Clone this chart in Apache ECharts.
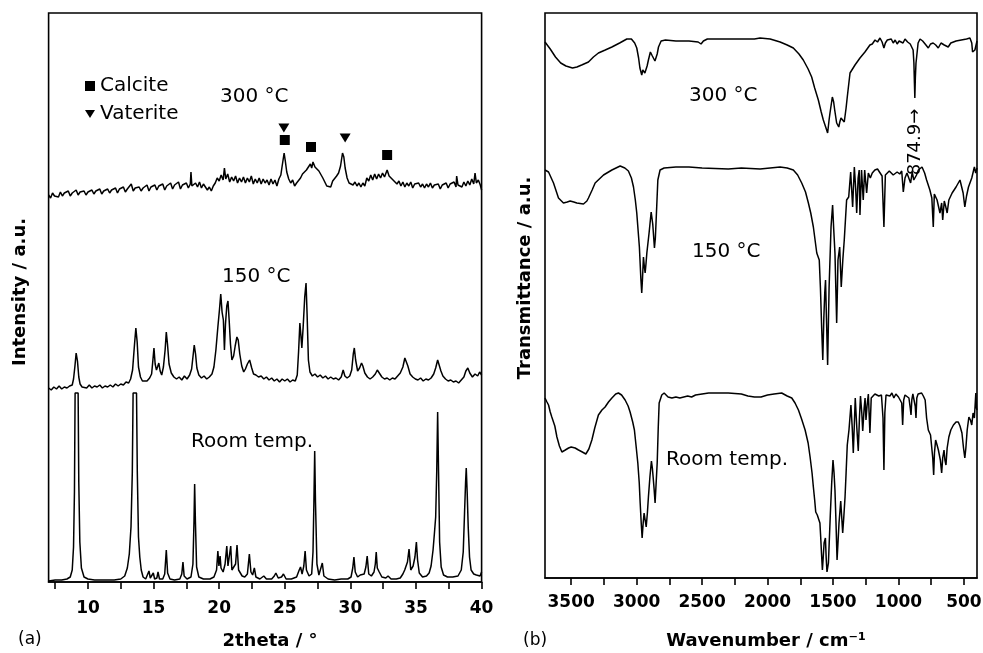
<!DOCTYPE html>
<html>
<head>
<meta charset="utf-8">
<script src="https://cdn.jsdelivr.net/npm/echarts@6/dist/echarts.min.js"></script>
<style>
  html, body { margin: 0; padding: 0; background: #fff; }
  #chart { width: 983px; height: 653px; }
</style>
</head>
<body>
<div id="chart"></div>
<script>
// ---------- (a) XRD patterns: [2theta (deg), intensity (a.u., offset per trace)] ----------
const xrd300 = [[7.00,387],[7.15,384],[7.30,389],[7.45,386],[7.60,388],[7.75,385],[7.90,390],[8.05,386],[8.20,389],[8.35,387],[8.50,391],[8.65,386],[8.80,389],[8.95,388],[9.10,392],[9.25,387],[9.40,390],[9.55,388],[9.70,391],[9.85,387],[10.00,390],[10.15,389],[10.30,392],[10.45,388],[10.60,391],[10.75,389],[10.90,393],[11.05,388],[11.20,391],[11.35,390],[11.50,393],[11.65,389],[11.80,392],[11.95,390],[12.10,394],[12.25,389],[12.40,393],[12.55,391],[12.70,395],[12.85,390],[13.00,393],[13.15,392],[13.30,398],[13.45,391],[13.60,394],[13.75,392],[13.90,395],[14.05,391],[14.20,394],[14.35,393],[14.50,397],[14.65,391],[14.80,395],[14.95,393],[15.10,397],[15.25,392],[15.40,396],[15.55,394],[15.70,398],[15.85,392],[16.00,396],[16.15,394],[16.30,399],[16.45,393],[16.60,397],[16.75,395],[16.90,400],[17.05,393],[17.20,397],[17.35,395],[17.50,399],[17.65,394],[17.80,398],[17.85,410],[17.92,396],[18.05,394],[18.20,399],[18.35,395],[18.50,400],[18.65,394],[18.80,398],[18.95,396],[19.10,392],[19.25,395],[19.40,391],[19.55,396],[19.70,399],[19.85,404],[20.00,401],[20.15,407],[20.30,402],[20.40,414],[20.50,403],[20.65,408],[20.80,400],[20.95,405],[21.10,401],[21.25,406],[21.40,399],[21.55,404],[21.70,400],[21.85,405],[22.00,399],[22.15,404],[22.30,400],[22.45,406],[22.60,398],[22.75,403],[22.90,399],[23.05,404],[23.20,398],[23.35,403],[23.50,399],[23.65,402],[23.80,397],[23.95,403],[24.10,398],[24.25,402],[24.40,396],[24.55,403],[24.70,407],[24.80,416],[24.95,429],[25.05,420],[25.15,410],[25.30,403],[25.45,399],[25.60,402],[25.75,396],[25.90,399],[26.05,397],[26.20,404],[26.35,408],[26.50,406],[26.65,412],[26.80,414],[26.95,418],[27.05,414],[27.15,420],[27.30,415],[27.45,417],[27.60,411],[27.75,410],[27.90,404],[28.05,402],[28.20,396],[28.35,398],[28.50,395],[28.65,401],[28.80,403],[28.95,406],[29.10,409],[29.25,416],[29.40,429],[29.50,425],[29.60,414],[29.75,404],[29.90,399],[30.05,401],[30.20,397],[30.35,400],[30.50,396],[30.65,399],[30.80,395],[30.95,399],[31.10,396],[31.25,404],[31.40,401],[31.55,407],[31.70,402],[31.85,408],[32.00,403],[32.15,408],[32.30,404],[32.45,409],[32.60,405],[32.80,412],[32.95,406],[33.10,408],[33.25,402],[33.40,404],[33.55,398],[33.70,401],[33.85,396],[34.00,400],[34.15,395],[34.30,399],[34.45,396],[34.60,400],[34.75,394],[34.90,398],[35.05,396],[35.20,399],[35.35,395],[35.50,398],[35.65,394],[35.80,398],[35.95,395],[36.10,399],[36.25,394],[36.40,397],[36.55,395],[36.70,398],[36.85,393],[37.00,397],[37.15,395],[37.30,399],[37.45,394],[37.60,398],[37.75,396],[37.90,400],[38.05,395],[38.10,406],[38.20,397],[38.35,399],[38.50,395],[38.65,400],[38.80,396],[38.95,401],[39.10,397],[39.25,403],[39.40,398],[39.50,409],[39.60,399],[39.75,402],[39.90,397],[40.00,392]];

const xrd150 = [[7.00,194],[7.20,192],[7.40,195],[7.60,193],[7.80,196],[8.00,193],[8.20,195],[8.40,194],[8.60,196],[8.80,197],[8.90,203],[9.00,215],[9.10,229],[9.20,221],[9.30,205],[9.40,198],[9.55,195],[9.70,196],[9.90,194],[10.10,197],[10.30,194],[10.50,196],[10.70,195],[10.90,197],[11.10,194],[11.30,196],[11.50,195],[11.70,197],[11.90,195],[12.10,198],[12.30,196],[12.50,198],[12.70,197],[12.90,200],[13.10,199],[13.25,203],[13.40,212],[13.55,238],[13.65,254],[13.75,240],[13.85,215],[14.00,205],[14.15,201],[14.30,203],[14.50,201],[14.70,204],[14.85,208],[14.95,222],[15.03,234],[15.12,218],[15.22,212],[15.30,215],[15.40,219],[15.50,211],[15.62,207],[15.75,215],[15.88,232],[15.97,250],[16.06,238],[16.18,218],[16.35,209],[16.55,205],[16.75,203],[16.95,205],[17.15,202],[17.35,206],[17.55,203],[17.75,207],[17.90,213],[18.00,225],[18.10,237],[18.20,228],[18.30,214],[18.45,207],[18.65,204],[18.85,206],[19.05,203],[19.25,205],[19.45,208],[19.60,215],[19.75,232],[19.90,255],[20.02,272],[20.12,288],[20.22,270],[20.32,262],[20.40,232],[20.48,258],[20.58,276],[20.67,281],[20.76,262],[20.86,238],[20.97,222],[21.10,226],[21.22,236],[21.35,245],[21.45,242],[21.57,228],[21.72,216],[21.87,210],[22.00,213],[22.15,218],[22.32,222],[22.48,214],[22.62,208],[22.80,207],[23.00,205],[23.20,206],[23.40,203],[23.60,205],[23.80,202],[24.00,204],[24.20,201],[24.40,203],[24.60,200],[24.80,203],[25.00,201],[25.20,203],[25.40,200],[25.60,202],[25.80,201],[25.95,207],[26.05,230],[26.15,259],[26.22,248],[26.30,234],[26.40,255],[26.52,285],[26.62,299],[26.70,268],[26.80,222],[26.92,210],[27.10,206],[27.30,208],[27.50,205],[27.70,207],[27.90,204],[28.10,206],[28.30,203],[28.50,205],[28.70,203],[28.90,204],[29.10,202],[29.30,205],[29.45,212],[29.58,206],[29.75,204],[29.95,206],[30.10,212],[30.22,228],[30.30,234],[30.40,222],[30.55,211],[30.70,214],[30.85,219],[30.95,216],[31.10,209],[31.30,205],[31.50,203],[31.70,205],[31.90,208],[32.05,212],[32.20,210],[32.40,205],[32.60,203],[32.80,204],[33.00,202],[33.20,204],[33.40,203],[33.60,206],[33.80,209],[34.00,215],[34.15,224],[34.25,225],[34.38,216],[34.55,208],[34.75,205],[34.95,203],[35.15,202],[35.35,204],[35.55,201],[35.75,203],[35.95,202],[36.15,204],[36.35,208],[36.50,214],[36.65,222],[36.75,220],[36.90,211],[37.05,206],[37.25,203],[37.45,201],[37.65,202],[37.85,200],[38.05,201],[38.25,199],[38.45,202],[38.65,205],[38.80,211],[38.95,214],[39.10,209],[39.30,205],[39.50,208],[39.70,206],[39.85,210],[40.00,207]];

const xrdRoom = [[7.00,1],[7.50,2],[8.00,2],[8.40,3],[8.65,5],[8.80,12],[8.90,35],[8.97,90],[9.02,189],[9.25,189],[9.30,100],[9.38,40],[9.50,14],[9.70,5],[10.00,3],[10.50,2],[11.00,2],[11.50,2],[12.00,2],[12.50,3],[12.80,6],[13.00,14],[13.15,28],[13.28,55],[13.38,110],[13.44,189],[13.70,189],[13.76,110],[13.85,45],[13.95,25],[14.06,12],[14.20,5],[14.40,3],[14.55,4],[14.65,11],[14.75,4],[14.88,4],[14.98,9],[15.08,3],[15.25,4],[15.34,10],[15.45,3],[15.70,3],[15.85,8],[15.97,32],[16.07,9],[16.25,3],[16.60,2],[17.00,3],[17.15,8],[17.24,20],[17.33,6],[17.55,3],[17.85,5],[18.00,18],[18.08,60],[18.13,98],[18.19,60],[18.28,15],[18.45,5],[18.80,3],[19.30,3],[19.60,5],[19.80,12],[19.90,31],[19.98,16],[20.07,26],[20.14,14],[20.30,10],[20.45,18],[20.58,36],[20.67,16],[20.78,18],[20.88,36],[20.97,12],[21.10,10],[21.25,18],[21.36,37],[21.48,12],[21.60,10],[21.75,6],[21.95,5],[22.15,8],[22.30,28],[22.42,10],[22.55,7],[22.68,14],[22.80,5],[23.10,3],[23.40,6],[23.60,3],[24.00,3],[24.20,6],[24.32,9],[24.50,4],[24.75,5],[24.90,8],[25.10,3],[25.50,3],[25.90,5],[26.10,12],[26.20,15],[26.32,8],[26.45,16],[26.55,31],[26.65,12],[26.85,6],[27.05,8],[27.15,30],[27.22,80],[27.28,131],[27.34,80],[27.45,18],[27.60,7],[27.75,9],[27.86,19],[27.98,6],[28.30,3],[28.80,2],[29.30,3],[29.80,3],[30.05,5],[30.18,14],[30.27,25],[30.37,10],[30.55,5],[30.75,7],[30.90,6],[31.05,8],[31.18,15],[31.28,26],[31.40,8],[31.60,6],[31.80,10],[31.90,18],[31.97,30],[32.05,14],[32.20,10],[32.40,5],[32.70,4],[32.87,6],[33.10,3],[33.50,3],[33.80,4],[34.00,8],[34.14,12],[34.25,14],[34.35,20],[34.47,33],[34.60,12],[34.78,16],[34.92,25],[35.03,40],[35.12,22],[35.25,9],[35.50,5],[35.80,6],[36.00,9],[36.15,16],[36.30,32],[36.40,48],[36.50,65],[36.58,110],[36.65,170],[36.72,110],[36.80,40],[36.92,15],[37.10,7],[37.40,5],[37.80,5],[38.20,6],[38.45,12],[38.60,30],[38.70,69],[38.78,100],[38.83,114],[38.90,90],[38.98,55],[39.08,25],[39.20,12],[39.40,8],[39.60,7],[39.75,9],[39.88,6],[40.00,10]];

// phase markers above the 300 °C pattern
const calciteMarks = [[25.0,442],[27.0,435],[32.8,427]];
const vateriteMarks = [[24.93,454],[29.6,444]];

// ---------- (b) IR spectra: [wavenumber (cm-1), transmittance (a.u., offset per trace)] ----------
const ir300 = [[3700,536],[3660,529],[3620,521],[3580,515],[3540,512],[3490,510],[3456,511],[3420,513],[3368,516],[3330,521],[3292,525],[3240,528],[3189,531],[3130,535],[3075,539],[3040,539],[3015,535],[2999,530],[2985,520],[2975,510],[2961,503],[2953,508],[2945,510],[2937,505],[2930,506],[2920,512],[2910,518],[2895,526],[2889,526],[2880,522],[2872,521],[2860,517],[2851,515],[2843,524],[2833,531],[2813,537],[2780,538],[2700,537],[2600,537],[2530,536],[2508,534],[2490,537],[2460,539],[2400,539],[2300,539],[2200,539],[2100,539],[2057,540],[1980,539],[1904,536],[1850,533],[1803,530],[1760,524],[1727,518],[1690,509],[1663,501],[1640,490],[1612,478],[1590,466],[1574,458],[1556,451],[1541,445],[1530,458],[1523,465],[1505,481],[1495,476],[1487,468],[1472,455],[1456,451],[1448,456],[1439,460],[1425,459],[1414,456],[1400,470],[1391,481],[1370,505],[1332,513],[1294,520],[1256,526],[1218,533],[1200,534],[1179,538],[1160,536],[1141,540],[1125,536],[1111,530],[1100,535],[1085,538],[1070,536],[1055,539],[1040,535],[1025,538],[1010,534],[995,537],[980,538],[965,535],[950,539],[930,536],[910,534],[899,535],[888,528],[882,515],[878,495],[874.9,480],[871,500],[866,515],[861,521],[850,535],[835,539],[815,537],[790,533],[772,530],[755,534],[735,535],[715,533],[696,530],[675,535],[650,533],[620,531],[600,535],[560,537],[520,538],[480,539],[454,540],[440,535],[434,526],[425,527],[416,528],[400,537]];

const ir150 = [[3700,408],[3673,406],[3635,395],[3597,380],[3559,375],[3530,376],[3508,377],[3480,376],[3457,375],[3406,374],[3380,377],[3368,380],[3340,388],[3317,395],[3253,403],[3189,408],[3126,412],[3090,410],[3063,407],[3040,400],[3024,391],[3010,378],[2999,365],[2979,331],[2968,300],[2961,285],[2955,300],[2948,321],[2940,310],[2935,305],[2928,315],[2922,325],[2905,345],[2889,366],[2877,354],[2864,330],[2857,340],[2851,358],[2838,398],[2821,408],[2790,410],[2700,411],[2600,411],[2500,410],[2300,409],[2200,410],[2057,409],[1904,411],[1850,410],[1803,408],[1770,403],[1739,395],[1710,386],[1688,375],[1670,365],[1650,351],[1624,325],[1605,318],[1596,290],[1586,248],[1578,218],[1570,260],[1563,285],[1557,298],[1550,260],[1541,213],[1530,290],[1515,351],[1503,373],[1495,350],[1485,325],[1472,255],[1466,290],[1462,318],[1449,331],[1437,291],[1425,318],[1414,338],[1396,378],[1380,381],[1365,406],[1350,371],[1337,411],[1327,390],[1319,365],[1308,400],[1300,408],[1294,363],[1282,408],[1269,378],[1258,408],[1243,385],[1230,405],[1215,400],[1200,405],[1180,408],[1160,409],[1140,405],[1125,402],[1111,351],[1100,403],[1070,407],[1040,403],[1010,406],[990,404],[975,407],[963,386],[950,400],[935,405],[920,403],[907,395],[895,406],[883,398],[875,396],[862,403],[848,408],[820,411],[800,405],[785,398],[760,388],[745,380],[734,351],[726,384],[705,378],[683,365],[670,375],[662,358],[650,377],[640,372],[628,365],[615,378],[590,385],[560,391],[530,398],[506,385],[493,371],[480,382],[465,391],[440,400],[420,411],[410,405],[400,410]];

const irRoom = [[3700,180],[3685,176],[3673,173],[3660,166],[3648,161],[3640,160],[3625,152],[3609,141],[3590,132],[3571,126],[3545,128],[3520,130],[3500,131],[3470,130],[3444,128],[3415,126],[3388,124],[3365,129],[3342,138],[3320,150],[3292,163],[3265,168],[3241,171],[3215,176],[3189,180],[3160,184],[3139,185],[3115,183],[3088,178],[3065,172],[3050,166],[3030,156],[3017,148],[3005,133],[2991,115],[2980,95],[2973,75],[2965,55],[2958,40],[2950,55],[2943,65],[2935,58],[2927,51],[2918,65],[2910,81],[2898,102],[2887,117],[2880,110],[2874,101],[2866,88],[2859,75],[2851,95],[2843,115],[2835,150],[2828,175],[2808,183],[2790,185],[2760,181],[2731,180],[2700,181],[2670,180],[2640,181],[2610,182],[2580,181],[2550,183],[2500,184],[2450,185],[2400,185],[2300,185],[2200,184],[2150,182],[2100,181],[2050,181],[2000,183],[1950,184],[1892,185],[1850,182],[1815,180],[1790,175],[1764,168],[1740,159],[1713,148],[1690,135],[1675,121],[1660,105],[1650,91],[1640,78],[1632,66],[1620,63],[1607,61],[1600,55],[1594,41],[1588,25],[1581,8],[1575,20],[1568,35],[1558,40],[1552,20],[1546,6],[1535,15],[1520,65],[1510,95],[1500,118],[1492,105],[1485,88],[1477,55],[1469,18],[1462,35],[1454,55],[1441,77],[1434,62],[1426,45],[1418,60],[1408,81],[1400,105],[1391,133],[1378,148],[1363,173],[1353,150],[1345,125],[1338,150],[1330,180],[1318,150],[1307,127],[1298,160],[1290,182],[1280,165],[1273,147],[1262,170],[1255,180],[1248,158],[1240,172],[1230,184],[1218,145],[1208,180],[1195,182],[1180,184],[1165,185],[1150,182],[1130,183],[1118,160],[1111,108],[1104,165],[1095,183],[1080,185],[1065,182],[1050,185],[1035,180],[1020,184],[1000,181],[985,183],[975,175],[968,153],[960,178],[950,183],[935,184],[920,180],[910,170],[904,163],[898,178],[890,184],[880,183],[872,172],[866,160],[860,180],[850,184],[835,185],[823,185],[810,182],[796,178],[785,160],[772,148],[755,143],[745,141],[738,120],[731,103],[725,125],[716,138],[705,133],[695,128],[680,118],[670,105],[662,120],[652,128],[645,118],[637,113],[628,130],[615,141],[600,148],[580,153],[560,156],[543,156],[530,152],[515,145],[503,130],[493,120],[485,130],[475,148],[462,161],[450,158],[440,153],[430,165],[420,160],[409,185],[404,170],[400,168]];

// annotated band of the 300 °C spectrum
const bandMark = [[874.9, 436]];

// axis ticks and labels
const twoThetaTicks = [7.5,10,12.5,15,17.5,20,22.5,25,27.5,30,32.5,35,37.5,40];
const twoThetaLabels = [10,15,20,25,30,35,40];
const wavenumberTicks = [3500,3250,3000,2750,2500,2250,2000,1750,1500,1250,1000,750,500];
const wavenumberLabels = [3500,3000,2500,2000,1500,1000,500];

const FONT = 'DejaVu Sans';
const tickLabelStyle = {
  fontFamily: FONT, fontWeight: 'bold', fontSize: 17, color: '#000',
  formatter: function (v) { return String(v); }
};
const triangleDown = 'path://M0,0 L10,0 L5,8 Z';

function traceSeries(data, xi) {
  return {
    type: 'line', xAxisIndex: xi, yAxisIndex: xi, data: data,
    showSymbol: false, symbol: 'none', silent: true,
    lineStyle: { color: '#000', width: 1.5 }
  };
}

function textEl(x, y, text, opts) {
  return {
    type: 'text', x: x, y: y, silent: true,
    rotation: (opts && opts.rotation) || 0,
    style: Object.assign({
      text: text, fill: '#000', font: '20px "' + FONT + '"',
      textAlign: 'left', textVerticalAlign: 'middle'
    }, (opts && opts.style) || {})
  };
}

const chart = echarts.init(document.getElementById('chart'), null, { renderer: 'canvas' });

chart.setOption({
  animation: false,
  backgroundColor: '#fff',
  grid: [
    { left: 48.6, top: 13, width: 433, height: 569, show: true, borderColor: '#000', borderWidth: 1.6,
      containLabel: false, outerBoundsMode: 'none' },
    { left: 545, top: 13, width: 432, height: 565, show: true, borderColor: '#000', borderWidth: 1.6,
      containLabel: false, outerBoundsMode: 'none' }
  ],
  xAxis: [
    {
      type: 'value', gridIndex: 0, min: 7, max: 40,
      axisLine: { show: true, onZero: false, lineStyle: { color: '#000', width: 1.6 } },
      axisTick: { show: true, inside: false, length: 7, customValues: twoThetaTicks, lineStyle: { color: '#000', width: 1.6 } },
      axisLabel: Object.assign({ customValues: twoThetaLabels, margin: 18 }, tickLabelStyle),
      splitLine: { show: false }
    },
    {
      type: 'value', gridIndex: 1, min: 400, max: 3700, inverse: true,
      axisLine: { show: true, onZero: false, lineStyle: { color: '#000', width: 1.6 } },
      axisTick: { show: true, inside: false, length: 7, customValues: wavenumberTicks, lineStyle: { color: '#000', width: 1.6 } },
      axisLabel: Object.assign({ customValues: wavenumberLabels, margin: 16 }, tickLabelStyle),
      splitLine: { show: false }
    }
  ],
  yAxis: [
    { type: 'value', gridIndex: 0, min: 0, max: 569, show: false },
    { type: 'value', gridIndex: 1, min: 0, max: 565, show: false }
  ],
  legend: {
    orient: 'vertical', left: 85, top: 76, padding: 0, itemGap: 8,
    itemWidth: 10, itemHeight: 10, selectedMode: false,
    textStyle: { fontFamily: FONT, fontSize: 20, color: '#000' },
    data: [
      { name: 'Calcite', icon: 'rect', itemStyle: { color: '#000', opacity: 1 } },
      { name: 'Vaterite', icon: triangleDown, itemStyle: { color: '#000', opacity: 1 } }
    ]
  },
  series: [
    traceSeries(xrdRoom, 0),
    traceSeries(xrd150, 0),
    traceSeries(xrd300, 0),
    {
      name: 'Calcite', type: 'scatter', xAxisIndex: 0, yAxisIndex: 0, data: calciteMarks,
      symbol: 'rect', symbolSize: 10, itemStyle: { color: '#000', opacity: 1 }, silent: true
    },
    {
      name: 'Vaterite', type: 'scatter', xAxisIndex: 0, yAxisIndex: 0, data: vateriteMarks,
      symbol: triangleDown, symbolSize: [11, 9], itemStyle: { color: '#000', opacity: 1 }, silent: true
    },
    traceSeries(irRoom, 1),
    traceSeries(ir150, 1),
    traceSeries(ir300, 1),
    {
      type: 'scatter', xAxisIndex: 1, yAxisIndex: 1, data: bandMark, symbolSize: 0, silent: true,
      itemStyle: { opacity: 1 },
      label: {
        show: true, position: 'inside', rotate: 90,
        formatter: function (p) { return p.value[0].toFixed(1) + '\u2192'; },
        fontFamily: FONT, fontSize: 18, color: '#000', opacity: 1, align: 'center', verticalAlign: 'middle'
      }
    }
  ],
  graphic: [
    // trace labels, panel (a)
    textEl(220, 97, '300 \u00B0C'),
    textEl(222, 277, '150 \u00B0C'),
    textEl(191, 442, 'Room temp.'),
    // trace labels, panel (b)
    textEl(689, 96, '300 \u00B0C'),
    textEl(692, 252, '150 \u00B0C'),
    textEl(666, 460, 'Room temp.'),
    // axis titles
    textEl(270, 641, '2theta / \u00B0', { style: { font: 'bold 18px "' + FONT + '"', textAlign: 'center' } }),
    textEl(766, 641, 'Wavenumber / cm\u207B\u00B9', { style: { font: 'bold 18px "' + FONT + '"', textAlign: 'center' } }),
    textEl(20, 292, 'Intensity / a.u.', { rotation: Math.PI / 2, style: { font: 'bold 18px "' + FONT + '"', textAlign: 'center' } }),
    textEl(525, 278, 'Transmittance / a.u.', { rotation: Math.PI / 2, style: { font: 'bold 18px "' + FONT + '"', textAlign: 'center' } }),
    // panel tags
    textEl(18, 640, '(a)', { style: { font: '17px "' + FONT + '"' } }),
    textEl(523, 641, '(b)', { style: { font: '17px "' + FONT + '"' } })
  ]
});
</script>
</body>
</html>
